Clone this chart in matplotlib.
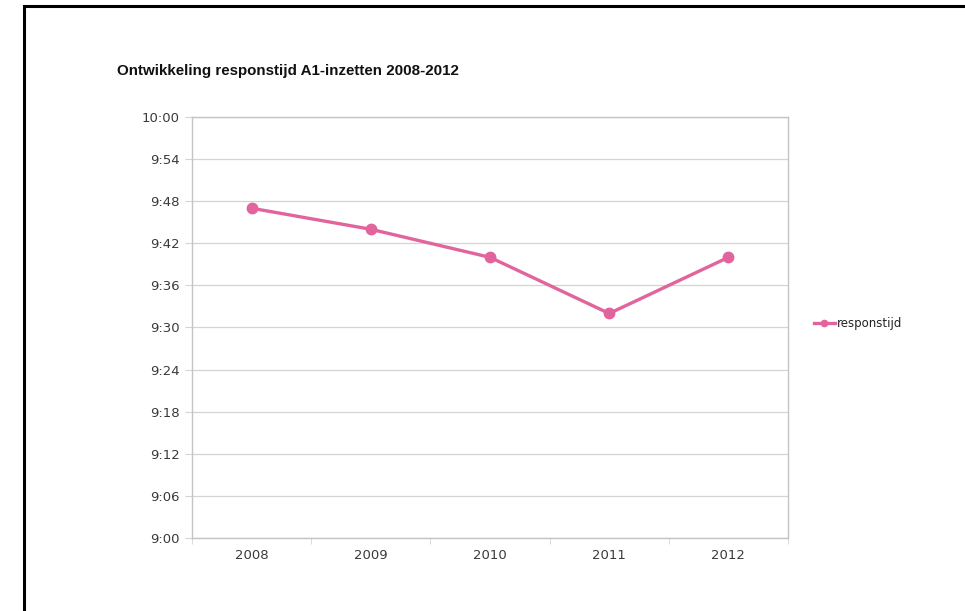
import matplotlib.pyplot as plt
from matplotlib.patches import Rectangle
from matplotlib.ticker import FixedLocator, FuncFormatter

# responstijd per jaar (u:mm)
jaren = ["2008", "2009", "2010", "2011", "2012"]
responstijd = ["9:47", "9:44", "9:40", "9:32", "9:40"]
y_ticks = ["9:00", "9:06", "9:12", "9:18", "9:24", "9:30", "9:36", "9:42", "9:48", "9:54", "10:00"]


def to_min(s):
    h, m = s.split(":")
    return int(h) * 60 + int(m)


def fmt_time(v, pos=None):
    v = int(round(v))
    return "%d:%02d" % (v // 60, v % 60)


roze = "#e2649c"
grijs = "#d4d4d4"
tekst = "#3a3a3a"

fig = plt.figure(figsize=(9.65, 6.11), dpi=100)
fig.patch.set_facecolor("white")

# zwarte kader rond de figuur
fig.patches.append(Rectangle((24 / 965, -0.1), 1.2, 1 - 6 / 611 + 0.1,
                             transform=fig.transFigure, fill=False,
                             edgecolor="black", linewidth=2.2))

ax = fig.add_axes([192 / 965, 1 - 538 / 611, (788 - 192) / 965, (538 - 117) / 611])

x = list(range(len(jaren)))
y = [to_min(t) for t in responstijd]
ax.plot(x, y, color=roze, linewidth=2.4, marker="o", markersize=7.5,
        label="responstijd", zorder=3)

ax.set_xlim(-0.5, len(jaren) - 0.5)
ax.set_ylim(to_min(y_ticks[0]), to_min(y_ticks[-1]))

ax.set_yticks([to_min(t) for t in y_ticks])
ax.yaxis.set_major_formatter(FuncFormatter(fmt_time))
ax.set_xticks(x)
ax.set_xticklabels(jaren)
ax.xaxis.set_minor_locator(FixedLocator([i - 0.5 for i in range(len(jaren) + 1)]))

ax.grid(axis="y", color=grijs, linewidth=0.9)
ax.set_axisbelow(True)
for s in ax.spines.values():
    s.set_color("#c4c4c4")
    s.set_linewidth(1)

ax.tick_params(axis="y", length=5, color=grijs, labelsize=9.5, labelcolor=tekst, pad=4)
ax.tick_params(axis="x", which="major", length=0, labelsize=9.5, labelcolor=tekst, pad=8)
ax.tick_params(axis="x", which="minor", length=4, color=grijs)

fig.text(117 / 965, 1 - 71 / 611, "Ontwikkeling responstijd A1-inzetten 2008-2012",
         fontsize=10.9, fontweight="bold", color="#111111", va="center",
         family=["Liberation Sans", "DejaVu Sans"])

leg = fig.legend(loc="center left", bbox_to_anchor=(803 / 965, 1 - 324 / 611),
                 frameon=False, fontsize=8.5, handlelength=1.8, markerscale=0.6,
                 handletextpad=0.2)
for t in leg.get_texts():
    t.set_color("#222222")

fig.savefig("out.png", dpi=100)
